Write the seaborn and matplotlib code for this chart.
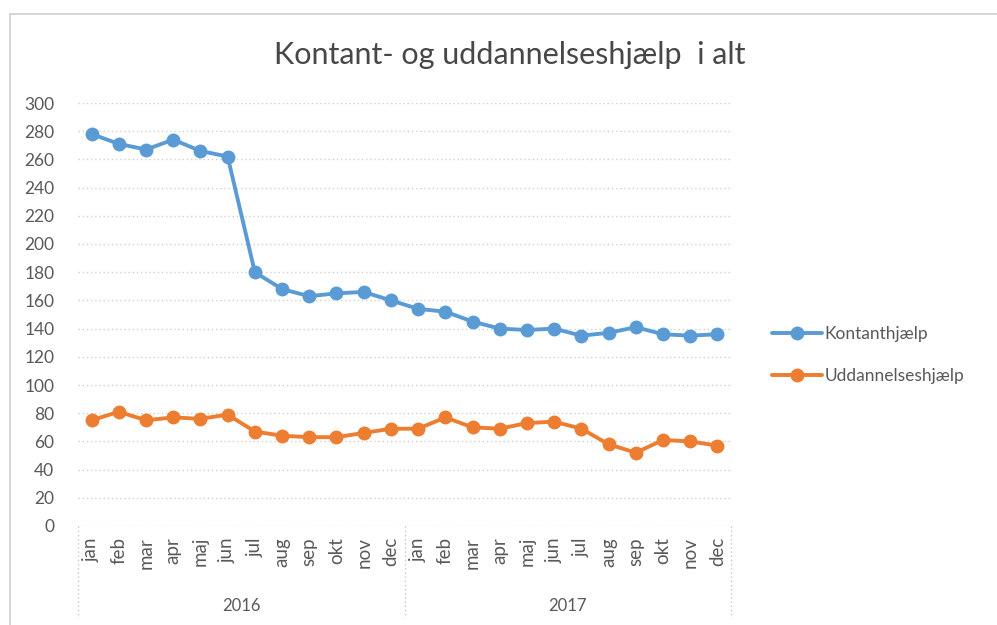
import matplotlib
matplotlib.use("Agg")
import matplotlib.pyplot as plt
from matplotlib.lines import Line2D
import seaborn as sns
import pandas as pd
import numpy as np

months = ["jan", "feb", "mar", "apr", "maj", "jun", "jul", "aug", "sep", "okt", "nov", "dec"]
years = ["2016", "2017"]
kontanthjaelp = [278, 271, 267, 274, 266, 262, 180, 168, 163, 165, 166, 160,
                 154, 152, 145, 140, 139, 140, 135, 137, 141, 136, 135, 136]
uddannelseshjaelp = [75, 81, 75, 77, 76, 79, 67, 64, 63, 63, 66, 69,
                     69, 77, 70, 69, 73, 74, 69, 58, 52, 61, 60, 57]
series_names = ["Kontanthjælp", "Uddannelseshjælp"]
title = "Kontant- og uddannelseshjælp  i alt"

n = len(months) * len(years)
df = pd.DataFrame({
    "pos": list(range(n)) * 2,
    "value": kontanthjaelp + uddannelseshjaelp,
    "serie": [series_names[0]] * n + [series_names[1]] * n,
})

sns.set_theme(style="white")
plt.rcParams["font.family"] = ["Lato", "DejaVu Sans"]

fig = plt.figure(figsize=(9.97, 6.25), dpi=100)
ax = fig.add_axes([78/997, 1-526/625, 653/997, 423/625])

palette = {series_names[0]: "#5B9BD5", series_names[1]: "#ED7D31"}
sns.lineplot(data=df, x="pos", y="value", hue="serie", palette=palette,
             marker="o", markersize=10, linewidth=2.8, markeredgewidth=0,
             ax=ax, legend=False)

ax.set_ylim(0, 300)
ax.set_xlim(-0.5, n - 0.5)
ax.set_yticks(range(0, 301, 20))
ax.yaxis.grid(True, color="#d0d0d0", linestyle=(0, (1, 2)), linewidth=1)
ax.xaxis.grid(False)
for s in ax.spines.values():
    s.set_visible(False)
ax.set_xlabel("")
ax.set_ylabel("")
ax.tick_params(axis="y", length=0, pad=17, labelsize=12.5, labelcolor="#595959")
ax.set_xticks(range(n))
ax.set_xticklabels(months * len(years), rotation=90, fontsize=13.5, color="#595959")
ax.tick_params(axis="x", length=0, pad=8)

# multi-level category box
tr = ax.get_xaxis_transform()
ybot = -(618 - 526) / 423
for xb in [-0.5, 11.5, 23.5]:
    ax.plot([xb, xb], [0, ybot], transform=tr, clip_on=False,
            color="#c8c8c8", linestyle=(0, (1, 2)), linewidth=1)
for i, yr in enumerate(years):
    ax.text(i * 12 + 5.5, -(606 - 526) / 423, yr, transform=tr, ha="center",
            va="center", fontsize=12, color="#595959")

fig.text(510/997, 1 - 55/625, title, ha="center", va="center",
         fontsize=22, color="#474747")

handles = [Line2D([0], [0], color=palette[s], marker="o", markersize=10,
                  linewidth=2.8, markeredgewidth=0) for s in series_names]
fig.legend(handles, series_names, loc="center left",
           bbox_to_anchor=(756/997, 1 - 355/625), frameon=False,
           fontsize=12.5, labelcolor="#595959", handlelength=2.9,
           handletextpad=0.15, labelspacing=1.45)

# chart border
fig.add_artist(Line2D([10/997, 10/997], [0, 1 - 14/625], color="#d0d0d0", linewidth=1.2))
fig.add_artist(Line2D([10/997, 1], [1 - 14/625, 1 - 14/625], color="#d0d0d0", linewidth=1.2))

fig.savefig("out.png", dpi=100)
